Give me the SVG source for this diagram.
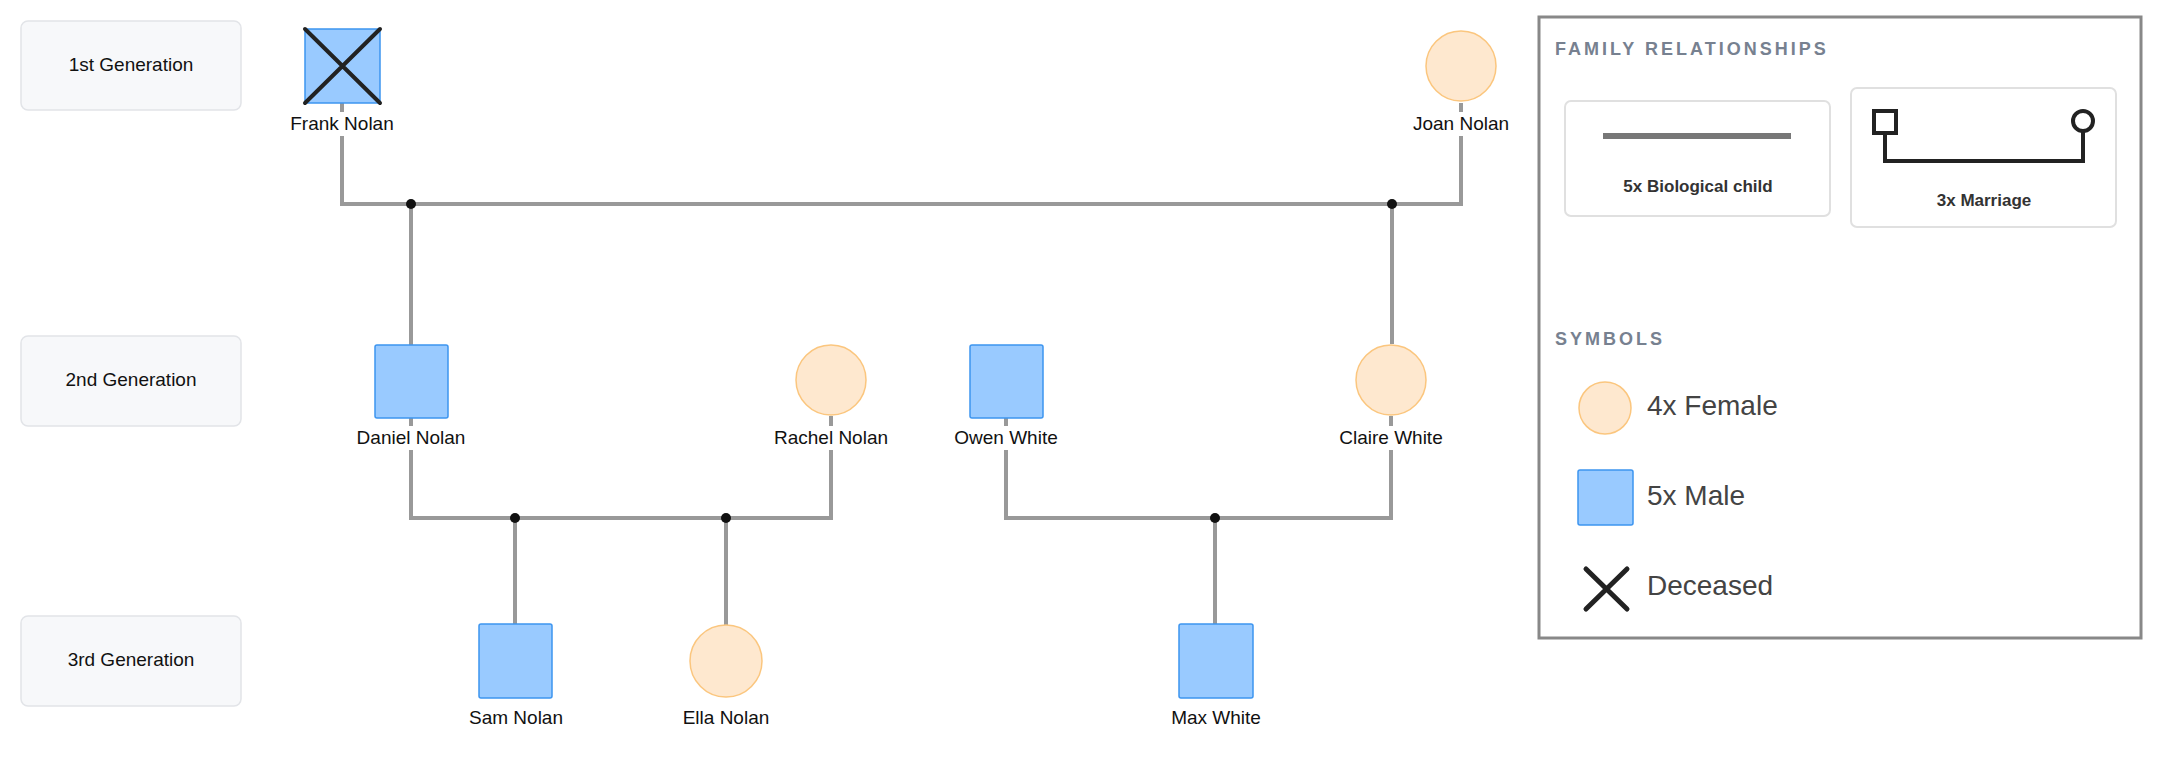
<svg xmlns="http://www.w3.org/2000/svg" width="2161" height="758" viewBox="0 0 2161 758">
<style>
text{font-family:"Liberation Sans",Arial,sans-serif;}
.gen{fill:#f7f8fa;stroke:#e2e4e8;stroke-width:1.5}
.gt{font-size:19px;fill:#111;text-anchor:middle;dominant-baseline:middle}
.m{fill:#99caff;stroke:#3d95f0;stroke-width:1.5}
.f{fill:#fee8cf;stroke:#fbc67e;stroke-width:1.5}
.lbl{font-size:19px;fill:#111;text-anchor:middle;dominant-baseline:middle}
.bg{fill:#fff}
.ln{stroke:#999;stroke-width:4;fill:none}
.dot{fill:#111}
.head{font-size:18px;font-weight:bold;fill:#778190;letter-spacing:3px}
.card{fill:#fff;stroke:#e0e0e0;stroke-width:2}
.ct{font-size:17px;font-weight:bold;fill:#333;text-anchor:middle}
.st{font-size:28px;fill:#444;dominant-baseline:middle}
</style>
<g id="gen1"><rect class="gen" x="21" y="21" width="220" height="89" rx="7"/><text class="gt" x="131" y="66">1st Generation</text></g>
<g id="gen2"><rect class="gen" x="21" y="336" width="220" height="90" rx="7"/><text class="gt" x="131" y="381">2nd Generation</text></g>
<g id="gen3"><rect class="gen" x="21" y="616" width="220" height="90" rx="7"/><text class="gt" x="131" y="661">3rd Generation</text></g>
<g id="connectors">
<path class="ln" d="M342 103V204H1461V103"/>
<path class="ln" d="M411 204V345"/>
<path class="ln" d="M1392 204V344"/>
<path class="ln" d="M411 418V518H831V416"/>
<path class="ln" d="M1006 418V518H1391V416"/>
<path class="ln" d="M515 518V624"/>
<path class="ln" d="M726 518V625"/>
<path class="ln" d="M1215 518V624"/>
<circle class="dot" cx="411" cy="204" r="5"/>
<circle class="dot" cx="1392" cy="204" r="5"/>
<circle class="dot" cx="515" cy="518" r="5"/>
<circle class="dot" cx="726" cy="518" r="5"/>
<circle class="dot" cx="1215" cy="518" r="5"/>
</g>
<g id="frank"><rect class="m" x="305" y="29" width="75" height="74"/><path d="M305 29L380 103M380 29L305 103" stroke="#222" stroke-width="4" stroke-linecap="round"/><rect class="bg" x="285" y="112" width="114" height="24"/><text class="lbl" x="342" y="125">Frank Nolan</text></g>
<g id="joan"><circle class="f" cx="1461" cy="66" r="35"/><rect class="bg" x="1408" y="112" width="106" height="24"/><text class="lbl" x="1461" y="125">Joan Nolan</text></g>
<g id="daniel"><rect class="m" x="375" y="345" width="73" height="73" rx="2"/><rect class="bg" x="350" y="426" width="122" height="24"/><text class="lbl" x="411" y="439">Daniel Nolan</text></g>
<g id="rachel"><circle class="f" cx="831" cy="380" r="35"/><rect class="bg" x="770" y="426" width="122" height="24"/><text class="lbl" x="831" y="439">Rachel Nolan</text></g>
<g id="owen"><rect class="m" x="970" y="345" width="73" height="73" rx="2"/><rect class="bg" x="950" y="426" width="112" height="24"/><text class="lbl" x="1006" y="439">Owen White</text></g>
<g id="claire"><circle class="f" cx="1391" cy="380" r="35"/><rect class="bg" x="1336" y="426" width="110" height="24"/><text class="lbl" x="1391" y="439">Claire White</text></g>
<g id="sam"><rect class="m" x="479" y="624" width="73" height="74" rx="2"/><text class="lbl" x="516" y="719">Sam Nolan</text></g>
<g id="ella"><circle class="f" cx="726" cy="661" r="36"/><text class="lbl" x="726" y="719">Ella Nolan</text></g>
<g id="max"><rect class="m" x="1179" y="624" width="74" height="74" rx="2"/><text class="lbl" x="1216" y="719">Max White</text></g>
<g id="legend">
<rect x="1539" y="17" width="602" height="621" fill="#fff" stroke="#888" stroke-width="3"/>
<text class="head" x="1555" y="55">FAMILY RELATIONSHIPS</text>
<rect class="card" x="1565" y="101" width="265" height="115" rx="6"/>
<line x1="1603" y1="136" x2="1791" y2="136" stroke="#777" stroke-width="6"/>
<text class="ct" x="1698" y="192">5x Biological child</text>
<rect class="card" x="1851" y="88" width="265" height="139" rx="6"/>
<path d="M1885 134V161H2083V131" stroke="#222" stroke-width="4" fill="none"/>
<rect x="1874" y="111" width="22" height="22" fill="#fff" stroke="#222" stroke-width="4"/>
<circle cx="2083" cy="121" r="10" fill="#fff" stroke="#222" stroke-width="4"/>
<text class="ct" x="1984" y="206">3x Marriage</text>
<text class="head" x="1555" y="345">SYMBOLS</text>
<circle class="f" cx="1605" cy="408" r="26"/>
<text class="st" x="1647" y="408">4x Female</text>
<rect class="m" x="1578" y="470" width="55" height="55" rx="2"/>
<text class="st" x="1647" y="498">5x Male</text>
<path d="M1586 569L1627 609M1627 569L1586 609" stroke="#222" stroke-width="5" stroke-linecap="round"/>
<text class="st" x="1647" y="588">Deceased</text>
</g>
</svg>
